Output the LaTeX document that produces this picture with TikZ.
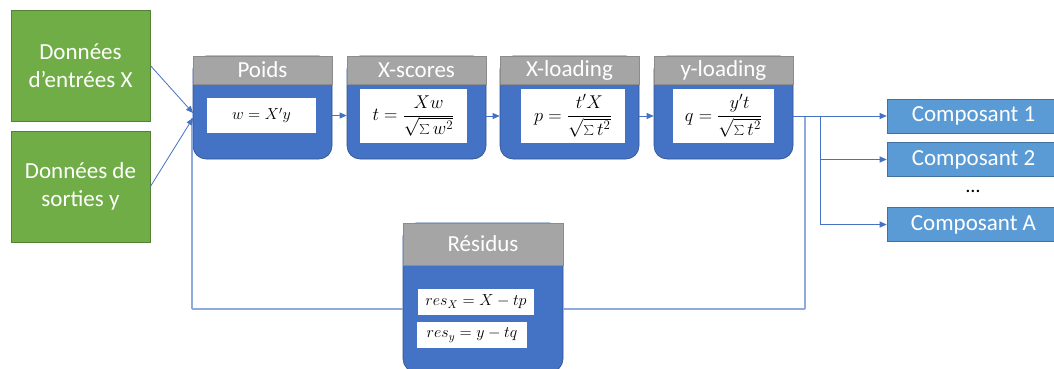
\documentclass[tikz,border=0pt]{standalone}
\usepackage{fix-cm}
\usepackage[no-math]{fontspec}
\setmainfont{Carlito}
\usetikzlibrary{arrows.meta}
\definecolor{grn}{HTML}{70AD47}
\definecolor{grnb}{HTML}{548235}
\definecolor{blu}{HTML}{4472C4}
\definecolor{blub}{HTML}{2F528F}
\definecolor{gry}{HTML}{A5A5A5}
\definecolor{gryb}{HTML}{8C8C8C}
\definecolor{cmp}{HTML}{5B9BD5}
\definecolor{cmpb}{HTML}{41719C}
\definecolor{lin}{HTML}{4472C4}
\definecolor{linl}{HTML}{8FAADC}
\tikzset{
  inbox/.style={draw=grnb, fill=grn, line width=0.8pt, minimum width=139pt, minimum height=111pt,
    text=white, align=center, font=\fontsize{23}{28}\selectfont, inner sep=0pt},
  body/.style={draw=blub, fill=blu, line width=0.6pt, rounded corners=13pt, inner sep=0pt},
  head/.style={draw=gryb, fill=gry, line width=0.6pt, inner sep=0pt, text=white,
    font=\fontsize{23}{28}\selectfont},
  frm/.style={fill=white, inner sep=0pt, font=\fontsize{16}{19}\selectfont},
  frac/.style={frm, font=\fontsize{18.5}{22}\selectfont},
  comp/.style={draw=cmpb, fill=cmp, line width=0.6pt, minimum width=173pt, minimum height=34pt,
    text=white, font=\fontsize{23}{28}\selectfont, inner sep=0pt},
  arr/.style={draw=lin, line width=0.8pt, -{Triangle[length=7pt,width=6pt]}},
  conn/.style={draw=lin, line width=0.8pt},
  loopline/.style={draw=linl, line width=1.2pt},
}
\begin{document}
\begin{tikzpicture}[x=1pt,y=-1pt]
\fill[white] (0,0) rectangle (1054,368);
\useasboundingbox (0,0) rectangle (1054,368);

% inputs
\node[inbox] (in1) at (80.5,65.5) {Données\\d’entrées X};
\node[inbox] (in2) at (80.5,186.5) {Données de\\sorties y};

% blocks
\node[body, minimum width=139pt, minimum height=103pt] (b1) at (262.5,107.5) {};
\node[head, minimum width=139pt, minimum height=28pt] (h1) at (262.5,70) {Poids};
\node[frm, minimum width=109pt, minimum height=35pt] (f1) at (261.5,115.5) {$w = X'y$};

\node[body, minimum width=139pt, minimum height=103pt] (b2) at (416.5,107.5) {};
\node[head, minimum width=139pt, minimum height=28pt] (h2) at (416.5,70) {X-scores};
\node[frac, minimum width=107pt, minimum height=54pt] (f2) at (413.5,116) {$\displaystyle t=\frac{Xw}{\sqrt{\sum w^2}}$};

\node[body, minimum width=139pt, minimum height=103pt] (b3) at (569.5,107.5) {};
\node[head, minimum width=139pt, minimum height=28pt] (h3) at (569.5,70) {X-loading};
\node[frac, minimum width=104pt, minimum height=54pt] (f3) at (573,116) {$\displaystyle p=\frac{t'X}{\sqrt{\sum t^2}}$};

\node[body, minimum width=139pt, minimum height=103pt] (b4) at (723.5,107.5) {};
\node[head, minimum width=139pt, minimum height=28pt] (h4) at (723.5,70) {y-loading};
\node[frac, minimum width=101pt, minimum height=54pt] (f4) at (723.5,116) {$\displaystyle q=\frac{y't}{\sqrt{\sum t^2}}$};

% outputs
\node[comp] (c1) at (973.5,116) {Composant 1};
\node[comp] (c2) at (973.5,159.5) {Composant 2};
\node[font=\fontsize{20}{24}\selectfont, inner sep=0pt] (dots) at (973,191) {…};
\node[comp] (cA) at (973.5,224.5) {Composant A};

% junctions
\coordinate (j1) at (193,113);
\coordinate (j2) at (193,118);
\coordinate (loopL) at (192,309);
\coordinate (rx) at (805,116);
\coordinate (bx) at (820,116);

% residual loop (behind residual block)
\draw[loopline] (loopL) -- (loopL |- j2);
\draw[loopline] (rx) -- (rx |- loopL);

% residual block
\node[body, minimum width=160pt, minimum height=149pt] (rb) at (483,297.5) {};
\node[head, minimum width=160pt, minimum height=42pt] (rh) at (483,244) {Résidus};
\node[frm, minimum width=116pt, minimum height=26pt] (r1) at (476,302) {$res_X = X - tp$};
\node[frm, minimum width=110pt, minimum height=26pt] (r2) at (472,335) {$res_y = y - tq$};

\draw[loopline] (rb.west |- loopL) -- (loopL);
\draw[loopline] (rx |- loopL) -- (rb.east |- loopL);

% connectors
\draw[arr] (in1.east) -- (j1);
\draw[arr] (in2.east) -- (j2);
\draw[arr] (b1.east |- f1) -- (b2.west |- f1);
\draw[arr] (b2.east |- f2) -- (b3.west |- f2);
\draw[arr] (b3.east |- f3) -- (b4.west |- f3);
\draw[arr] (b4.east |- f4) -- (c1.west);
\draw[conn] (bx) -- (bx |- cA);
\draw[arr] (bx |- c2) -- (c2.west);
\draw[arr] (bx |- cA) -- (cA.west);
\end{tikzpicture}
\end{document}
